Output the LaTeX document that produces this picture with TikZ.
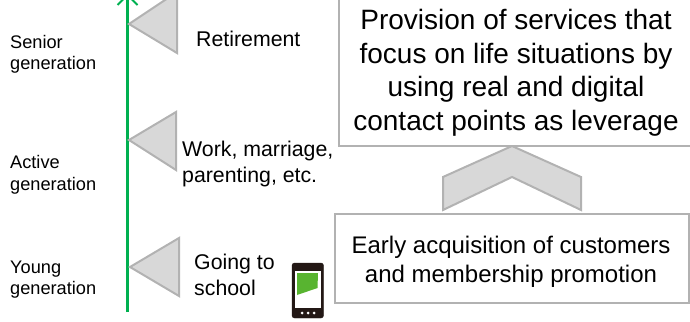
\documentclass[tikz,border=0pt]{standalone}
\usepackage{fontspec}
\setmainfont{Liberation Sans}
\definecolor{edgegray}{RGB}{178,178,178}
\definecolor{fillgray}{RGB}{216,216,216}
\definecolor{linegreen}{RGB}{0,176,80}
\definecolor{phonedark}{RGB}{35,24,21}
\definecolor{phonegreen}{RGB}{88,180,48}
\tikzset{
  x=1pt,y=-1pt,
  marker/.style={draw=edgegray,fill=fillgray,line width=2pt,line join=miter},
  msgbox/.style={draw=edgegray,fill=white,line width=2pt},
  gen/.style={font=\fontsize{18.2}{21.5}\selectfont,align=left,anchor=west,inner sep=0pt},
  evt/.style={font=\fontsize{21.3}{26}\selectfont,align=left,anchor=west,inner sep=0pt},
  mid/.style={font=\fontsize{24}{29}\selectfont,align=center,inner sep=0pt},
  big/.style={font=\fontsize{28}{33.5}\selectfont,align=center,inner sep=0pt},
}
\begin{document}
\begin{tikzpicture}
\useasboundingbox (0,0) rectangle (690,321);
\clip (0,0) rectangle (690,321);
\coordinate (axisb) at (127.5,312);
\coordinate (axist) at (127.5,-5);
\coordinate (axisl) at (117.5,5);
\coordinate (axisr) at (137.5,5);
\draw[linegreen,line width=2.2pt] (axisb) -- (axist);
\draw[linegreen,line width=2pt] (axisl) -- (axist) -- (axisr);
\draw[marker] (129,24) -- (177,-8) -- (177,53) -- cycle;
\draw[marker] (129,140) -- (176,112) -- (176,170) -- cycle;
\draw[marker] (130,267) -- (179,238) -- (179,296) -- cycle;
\node[gen] (senior) at (10,54.5) {Senior\\generation};
\node[gen] (active) at (10,175) {Active\\generation};
\node[gen] (young) at (10,279.5) {Young\\generation};
\node[evt] (ret) at (196,39) {Retirement};
\node[evt] (work) at (182,164) {Work, marriage,\\parenting, etc.};
\node[evt] (school) at (194,275) {Going to\\school};
\draw[phonedark,fill=phonedark,rounded corners=2.5pt] (292,263) rectangle (323.5,318);
\fill[white] (295,271) rectangle (320.5,308);
\fill[phonegreen] (297,273) -- (318,273) -- (317.5,288) -- (297,295) -- cycle;
\foreach \dx in {302,308,314} \fill[white] (\dx,313) circle (1.5);
\draw[marker] (512,146) -- (581,177) -- (581,210) -- (512,177) -- (443,210) -- (443,177) -- cycle;
\node[msgbox,anchor=north west,inner sep=0pt,minimum width=352pt,minimum height=155pt] (top) at (338,-10) {};
\node[msgbox,anchor=north west,inner sep=0pt,minimum width=354pt,minimum height=89pt] (bot) at (334,213) {};
\node[big] (toptext) at (516,73) {Provision of services that\\focus on life situations by\\using real and digital\\contact points as leverage};
\node[mid] (bottext) at (511,262) {Early acquisition of customers\\and membership promotion};
\end{tikzpicture}
\end{document}
